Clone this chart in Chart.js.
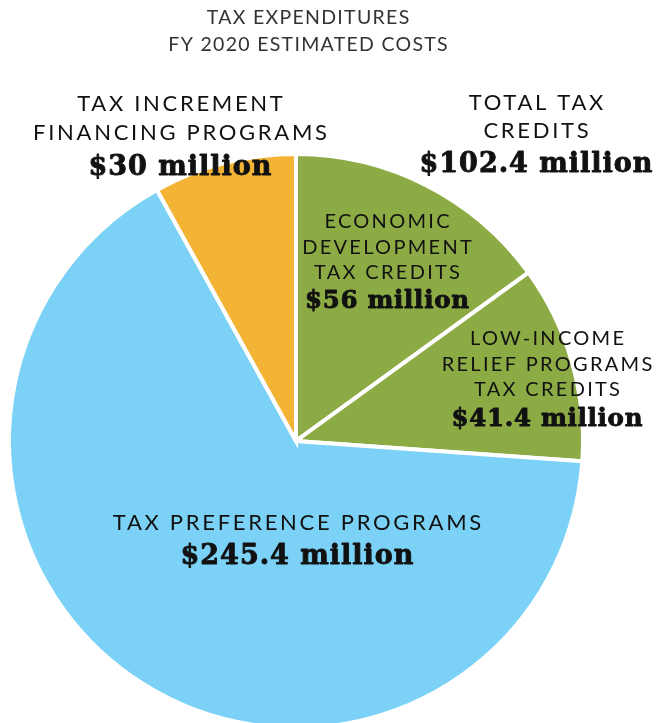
<!DOCTYPE html>
<html>
<head>
<meta charset="utf-8">
<script src="https://cdn.jsdelivr.net/npm/chart.js@4/dist/chart.umd.min.js"></script>
<style>
  html, body { margin: 0; padding: 0; background: #fff; overflow: hidden; }
  canvas { display: block; }
</style>
</head>
<body>
<canvas id="c" width="657" height="723"></canvas>
<script>
// FY 2020 estimated costs of tax expenditures, $ millions
const categories = [
  'Economic Development Tax Credits',
  'Low-Income Relief Programs Tax Credits',
  'Tax Preference Programs',
  'Tax Increment Financing Programs'
];
const costs = [56, 41.4, 245.4, 30];
const totalTaxCredits = 102.4;

const titleLines = ['TAX EXPENDITURES', 'FY 2020 ESTIMATED COSTS'];
const sliceCaptions = [
  ['ECONOMIC', 'DEVELOPMENT', 'TAX CREDITS'],
  ['LOW-INCOME', 'RELIEF PROGRAMS', 'TAX CREDITS'],
  ['TAX PREFERENCE PROGRAMS'],
  ['TAX INCREMENT', 'FINANCING PROGRAMS']
];
const groupCaption = ['TOTAL TAX', 'CREDITS'];

// styling
const sliceColors = ['#8dab45', '#8dab45', '#7bd2f6', '#f3b334'];
const TITLE_FONT = '19.5px Lato, "Open Sans", sans-serif';
const largeText = { caption: 22, captionSpacing: 2.7, money: 27, moneySpacing: 1 };
const smallText = { caption: 20, captionSpacing: 2.3, money: 24.5, moneySpacing: 0.7 };

// caption anchor offsets relative to the pie centre: [dx, firstLineDy, lineGap, moneyDy]
const captionPlacement = [
  [91, -219, 25.5, -139, smallText],
  [251, -102, 25.5, -21, smallText],
  [1, 82, 0, 116, largeText],
  [-116, -337, 29, -273, largeText]
];
const groupPlacement = [240, -338, 28, -276, largeText];

const money = v => '$' + v + ' million';

function drawSpaced(ctx, text, x, y, spacing, stroke) {
  ctx.letterSpacing = spacing + 'px';
  if (stroke) ctx.strokeText(text, x + spacing / 2, y);
  ctx.fillText(text, x + spacing / 2, y);
}

const labelPlugin = {
  id: 'sliceLabels',
  afterDatasetsDraw(chart) {
    const ctx = chart.ctx;
    const arc = chart.getDatasetMeta(0).data[0];
    const cx = arc.x, cy = arc.y;
    ctx.save();
    ctx.textAlign = 'center';
    ctx.textBaseline = 'middle';

    // title
    ctx.fillStyle = '#333333';
    ctx.font = TITLE_FONT;
    drawSpaced(ctx, titleLines[0], 308, 18, 1.3);
    drawSpaced(ctx, titleLines[1], 308, 45, 1.3);

    const block = (lines, value, p) => {
      const [dx, dy, gap, mdy, sz] = p;
      ctx.fillStyle = '#111';
      ctx.strokeStyle = '#111';
      ctx.lineWidth = 0.9;
      ctx.lineJoin = 'round';
      ctx.font = sz.caption + 'px Lato, "Open Sans", sans-serif';
      lines.forEach((t, i) => drawSpaced(ctx, t, cx + dx, cy + dy + i * gap, sz.captionSpacing, false));
      ctx.font = 'bold ' + sz.money + 'px "DejaVu Serif", serif';
      drawSpaced(ctx, money(value), cx + dx, cy + mdy, sz.moneySpacing, true);
    };

    costs.forEach((v, i) => block(sliceCaptions[i], v, captionPlacement[i]));
    block(groupCaption, totalTaxCredits, groupPlacement);
    ctx.restore();
  }
};

new Chart(document.getElementById('c'), {
  type: 'pie',
  data: {
    labels: categories,
    datasets: [{
      data: costs,
      backgroundColor: sliceColors,
      borderColor: '#ffffff',
      borderWidth: 4,
      borderJoinStyle: 'miter',
      clip: false
    }]
  },
  options: {
    responsive: false,
    animation: false,
    radius: 287,
    layout: { padding: { left: 0, right: 65, top: 159, bottom: 0 } },
    plugins: {
      legend: { display: false },
      tooltip: { enabled: false },
      title: { display: false }
    }
  },
  plugins: [labelPlugin]
});
</script>
</body>
</html>
